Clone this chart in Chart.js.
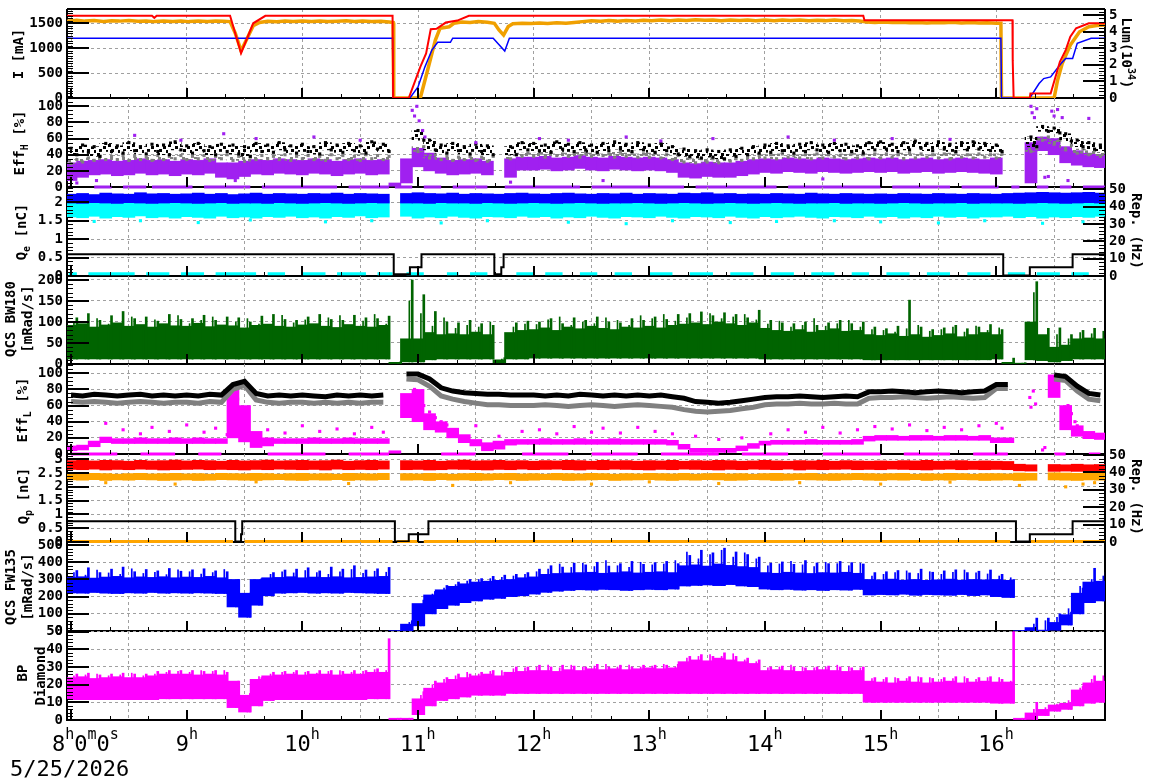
<!DOCTYPE html>
<html>
<head>
<meta charset="utf-8">
<script src="https://cdn.jsdelivr.net/npm/chart.js@4.4.1/dist/chart.umd.min.js"></script>
<style>
body{margin:0;background:#fff;width:1172px;height:782px;position:relative;overflow:hidden;font-family:'DejaVu Sans Mono',monospace;color:#000;}
canvas{position:absolute;left:0;}
.t{position:absolute;font-size:14px;font-weight:bold;white-space:nowrap;line-height:16px;}
.l{transform:translate(-50%,-50%) rotate(-90deg);}
.r{transform:translate(-50%,-50%) rotate(90deg);}
.t sub,.t sup{font-size:10px;line-height:0;}
.xl{position:absolute;top:733px;font-size:22px;line-height:22px;white-space:nowrap;}
.xl span{font-size:15px;position:relative;top:-12px;}
.date{position:absolute;left:10px;top:758px;font-size:22px;line-height:22px;}
</style>
</head>
<body>
<script>
// 横軸（時）
const XMIN = 7.965, XMAX = 16.94;
const hours = [8, 9, 10, 11, 12, 13, 14, 15, 16];
const xTickLabels = ['8h0m0s', '9h', '10h', '11h', '12h', '13h', '14h', '15h', '16h'];
const dateLabel = '5/25/2026';

// 0.1時間ごとの時刻
const T = [
  8.0,8.1,8.2,8.3,8.4,8.5,8.6,8.7,8.8,8.9,
  9.0,9.1,9.2,9.3,9.4,9.5,9.6,9.7,9.8,9.9,
  10.0,10.1,10.2,10.3,10.4,10.5,10.6,10.7,10.8,10.9,
  11.0,11.1,11.2,11.3,11.4,11.5,11.6,11.7,11.8,11.9,
  12.0,12.1,12.2,12.3,12.4,12.5,12.6,12.7,12.8,12.9,
  13.0,13.1,13.2,13.3,13.4,13.5,13.6,13.7,13.8,13.9,
  14.0,14.1,14.2,14.3,14.4,14.5,14.6,14.7,14.8,14.9,
  15.0,15.1,15.2,15.3,15.4,15.5,15.6,15.7,15.8,15.9,
  16.0,16.1,16.2,16.3,16.4,16.5,16.6,16.7,16.8,16.9];

// 電流 [mA] と ルミノシティ
const currentRed = [[7.965,1650],[8.7,1650],[8.72,1610],[8.74,1650],[9.375,1650],[9.47,900],[9.575,1500],[9.68,1650],[10.78,1650],[10.785,0],[10.92,0],[11.02,625],[11.07,895],[11.11,1380],[11.16,1390],[11.24,1515],[11.34,1555],[11.44,1650],[14.85,1650],[14.86,1560],[16.14,1560],[16.142,760],[16.15,0],[16.29,0],[16.295,89],[16.47,89],[16.55,726],[16.6,962],[16.64,1230],[16.69,1400],[16.8,1500],[16.94,1500]];
const currentBlue = [[7.965,1200],[10.78,1200],[10.785,0],[10.93,0],[11.0,222],[11.06,625],[11.12,962],[11.17,1117],[11.28,1117],[11.3,1200],[11.65,1200],[11.75,942],[11.79,1200],[16.04,1200],[16.045,0],[16.29,0],[16.37,290],[16.41,390],[16.47,423],[16.56,693],[16.6,794],[16.66,794],[16.7,1097],[16.82,1198],[16.94,1200]];
const lumi = [[7.965,4.62],[8.05,4.68],[8.12,4.63],[8.2,4.66],[8.28,4.61],[8.35,4.65],[8.42,4.63],[8.5,4.67],[8.58,4.62],[8.65,4.64],[8.72,4.6],[8.8,4.63],[8.88,4.61],[8.95,4.64],[9.02,4.6],[9.1,4.63],[9.18,4.61],[9.25,4.64],[9.32,4.62],[9.375,4.6],[9.42,3.9],[9.47,2.85],[9.52,3.55],[9.575,4.35],[9.63,4.55],[9.7,4.62],[9.78,4.59],[9.85,4.63],[9.92,4.6],[10.0,4.64],[10.08,4.61],[10.15,4.63],[10.22,4.6],[10.3,4.62],[10.38,4.65],[10.45,4.61],[10.52,4.63],[10.6,4.6],[10.68,4.62],[10.75,4.58],[10.785,4.55],[10.79,0],[11.02,0],[11.09,1.87],[11.15,3.49],[11.19,4.2],[11.27,4.29],[11.31,4.5],[11.38,4.58],[11.45,4.55],[11.52,4.6],[11.6,4.56],[11.66,4.5],[11.7,4.1],[11.74,3.79],[11.78,4.3],[11.82,4.47],[11.9,4.5],[11.98,4.48],[12.05,4.52],[12.12,4.49],[12.2,4.53],[12.28,4.5],[12.35,4.55],[12.42,4.6],[12.5,4.65],[12.58,4.62],[12.65,4.66],[12.72,4.63],[12.8,4.67],[12.88,4.64],[12.95,4.68],[13.02,4.65],[13.1,4.69],[13.18,4.66],[13.25,4.7],[13.32,4.67],[13.4,4.71],[13.48,4.68],[13.55,4.7],[13.62,4.66],[13.7,4.69],[13.78,4.67],[13.85,4.7],[13.92,4.66],[14.0,4.69],[14.08,4.66],[14.15,4.7],[14.22,4.67],[14.3,4.69],[14.38,4.65],[14.45,4.68],[14.52,4.66],[14.6,4.69],[14.68,4.65],[14.75,4.67],[14.82,4.64],[14.88,4.58],[14.95,4.55],[15.02,4.57],[15.1,4.54],[15.18,4.56],[15.25,4.53],[15.32,4.55],[15.4,4.52],[15.48,4.55],[15.55,4.53],[15.62,4.56],[15.7,4.52],[15.78,4.54],[15.85,4.51],[15.92,4.53],[16.0,4.5],[16.04,4.5],[16.045,0],[16.5,0],[16.53,1.07],[16.57,2.08],[16.64,3.19],[16.69,3.69],[16.72,3.99],[16.8,4.29],[16.87,4.36],[16.94,4.4]];

// Eff_H [%]
const effHPurpleLo = [
  8,12,15,16,14,15,17,15,16,14,
  16,15,17,12,10,13,16,15,17,16,
  15,17,16,14,16,17,15,16,1,5,
  25,20,17,15,16,17,15,null,12,21,
  21,22,20,21,23,21,20,22,21,20,
  21,20,18,12,11,13,12,12,14,16,
  18,17,19,18,17,19,18,17,18,19,
  18,19,17,18,19,17,18,19,18,17,
  16,null,null,5,45,40,30,27,25,24];
const effHPurpleHi = [
  30,32,33,34,32,33,35,33,34,32,
  34,33,35,30,30,32,34,33,35,34,
  33,35,34,32,34,35,33,34,5,35,
  48,42,36,33,34,35,32,null,35,37,
  37,38,36,37,39,37,36,38,37,36,
  37,36,34,30,29,31,30,30,32,34,
  35,34,36,35,34,36,35,34,35,36,
  35,36,34,35,36,34,35,36,35,34,
  36,null,null,55,62,60,50,45,42,40];
const effHBlackHi = [
  48,52,50,54,51,55,50,53,52,56,
  51,54,50,53,52,50,54,52,55,51,
  53,50,55,52,54,51,56,53,null,null,
  70,58,52,54,50,53,51,null,50,55,
  54,52,56,53,55,52,54,56,53,55,
  52,54,50,47,45,46,44,46,48,50,
  52,54,51,53,55,52,54,53,51,55,
  56,53,55,57,54,56,53,55,56,54,
  52,null,null,62,75,73,66,58,55,52];
const effHBlackLo = [
  40,43,38,44,42,45,41,44,40,46,
  42,45,40,44,41,38,44,43,46,42,
  44,41,46,43,45,42,47,44,null,null,
  58,46,42,45,41,44,40,null,40,46,
  45,43,47,44,46,43,45,47,44,46,
  43,45,41,38,36,37,35,38,40,42,
  43,45,42,44,46,43,45,44,42,46,
  47,44,46,48,45,47,44,46,47,45,
  44,null,null,50,69,67,57,50,47,45];
const effHGreyHi = [
  34,36,38,38,39,38,37,39,38,39,
  38,39,38,40,38,37,39,38,40,38,
  39,38,40,39,38,40,39,38,null,null,
  50,40,38,37,38,37,38,null,40,42,
  42,43,41,42,43,42,41,43,42,41,
  42,40,39,36,35,35,34,35,37,39,
  40,41,39,40,41,40,39,41,40,41,
  41,40,42,41,40,41,42,40,41,40,
  41,null,null,48,62,58,52,47,45,43];
const effHGreyLo = [
  29,31,33,34,34,33,34,33,34,35,
  34,35,33,35,33,32,34,35,34,33,
  35,34,33,35,34,33,35,34,null,null,
  44,36,34,33,34,33,32,null,35,38,
  38,37,39,38,37,38,39,37,38,37,
  37,36,34,31,30,31,30,32,33,35,
  36,35,37,36,35,36,37,35,36,35,
  36,37,35,36,37,36,35,37,36,37,
  36,null,null,44,58,53,46,42,40,38];
const effHPurpleOut = [[8.05,5],[8.22,8],[8.55,64],[8.95,58],[9.32,66],[9.42,8],[9.6,60],[10.1,62],[10.5,58],[10.95,95],[10.97,88],[10.99,100],[11.01,82],[11.04,70],[11.06,62],[11.5,55],[11.8,6],[12.05,60],[12.3,58],[12.6,8],[12.8,62],[13.1,57],[13.55,60],[14.2,62],[14.5,10],[14.6,58],[15.1,60],[15.6,59],[16.3,100],[16.31,92],[16.33,86],[16.35,97],[16.42,12],[16.45,13],[16.48,94],[16.5,88],[16.53,96],[16.57,86],[16.62,8],[16.8,85]];
const effHZero = [[7.98,8.0],[8.2,8.35],[8.45,8.65],[8.7,9.05],[9.15,9.55],[9.65,10.3],[10.4,10.75],[10.8,10.95],[11.05,11.2],[11.3,11.6],[11.75,12.4],[12.5,13.3],[13.4,14.1],[14.2,15.0],[15.1,15.6],[15.7,16.02],[16.13,16.2],[16.35,16.45],[16.55,16.65],[16.75,16.94]];

// Q_e [nC] と繰り返し [Hz]
const qeBlueLo = [
  1.98,1.97,1.99,1.98,1.97,1.99,1.98,1.97,1.98,1.99,
  1.98,1.97,1.98,1.99,1.97,1.98,1.98,1.97,1.99,1.98,
  1.97,1.98,1.99,1.98,1.97,1.98,1.99,1.98,null,1.98,
  1.98,1.97,1.99,1.98,1.98,1.97,1.99,1.98,1.97,1.98,
  1.99,1.98,1.97,1.98,1.99,1.98,1.97,1.98,1.98,1.99,
  1.98,1.97,1.98,1.99,1.98,1.97,1.98,1.99,1.98,1.97,
  1.98,1.99,1.98,1.97,1.98,1.98,1.99,1.97,1.98,1.98,
  1.97,1.98,1.99,1.98,1.97,1.98,1.98,1.99,1.97,1.98,
  1.98,1.98,1.97,1.98,1.99,1.98,1.97,1.98,1.99,1.98];
const qeBlueHi = [
  2.22,2.24,2.21,2.25,2.23,2.22,2.26,2.23,2.24,2.22,
  2.23,2.25,2.22,2.24,2.21,2.23,2.25,2.22,2.24,2.23,
  2.22,2.24,2.23,2.25,2.22,2.24,2.23,2.22,null,2.24,
  2.26,2.24,2.23,2.25,2.22,2.24,2.23,2.22,2.24,2.25,
  2.23,2.22,2.24,2.25,2.23,2.22,2.24,2.23,2.25,2.22,
  2.24,2.23,2.22,2.25,2.24,2.26,2.23,2.24,2.22,2.23,
  2.22,2.24,2.23,2.22,2.25,2.23,2.22,2.24,2.23,2.22,
  2.23,2.22,2.24,2.23,2.22,2.24,2.23,2.22,2.24,2.23,
  2.22,2.24,2.25,2.26,2.27,2.26,2.25,2.26,2.27,2.25];
const qeCyanLo = [
  1.6,1.58,1.62,1.57,1.61,1.59,1.63,1.58,1.6,1.57,
  1.61,1.59,1.57,1.62,1.58,1.6,1.57,1.61,1.59,1.62,
  1.58,1.6,1.57,1.61,1.59,1.63,1.58,1.6,null,1.62,
  1.57,1.6,1.58,1.62,1.59,1.57,1.61,1.6,1.58,1.62,
  1.59,1.61,1.57,1.6,1.58,1.62,1.59,1.57,1.61,1.6,
  1.58,1.62,1.59,1.57,1.61,1.6,1.58,1.62,1.59,1.57,
  1.61,1.58,1.6,1.62,1.59,1.57,1.61,1.6,1.58,1.62,
  1.59,1.61,1.57,1.6,1.58,1.62,1.59,1.61,1.57,1.6,
  1.6,1.62,1.58,1.61,1.57,1.6,1.58,1.61,1.59,1.62];
const qeCyanHi = [
  2.04,2.05,2.03,2.05,2.04,2.03,2.05,2.04,2.03,2.05,
  2.04,2.03,2.05,2.04,2.05,2.03,2.04,2.05,2.03,2.04,
  2.05,2.04,2.03,2.05,2.04,2.03,2.05,2.04,null,2.03,
  2.05,2.04,2.03,2.05,2.04,2.05,2.03,2.04,2.05,2.04,
  2.03,2.05,2.04,2.03,2.05,2.04,2.03,2.05,2.04,2.03,
  2.05,2.04,2.03,2.05,2.04,2.03,2.05,2.04,2.05,2.03,
  2.04,2.05,2.03,2.04,2.05,2.04,2.03,2.05,2.04,2.05,
  2.03,2.04,2.05,2.03,2.04,2.05,2.04,2.03,2.05,2.04,
  2.05,2.06,2.07,2.08,2.07,2.08,2.09,2.08,2.07,2.08];
const qeCyanOut = [[8.2,1.48],[8.6,1.5],[9.1,1.45],[9.55,1.52],[10.2,1.47],[10.6,1.5],[11.2,1.44],[11.6,1.5],[12.3,1.46],[12.8,1.42],[13.2,1.5],[13.7,1.45],[14.1,1.48],[14.6,1.5],[15.0,1.47],[15.5,1.44],[15.9,1.5],[16.4,1.43],[16.75,1.47]];
const qeCyanZero = [[7.98,8.05],[8.15,8.55],[8.65,8.85],[8.95,9.15],[9.25,9.6],[9.7,9.85],[10.0,10.2],[10.3,10.55],[10.65,10.78],[10.9,11.05],[11.25,11.35],[11.45,11.6],[11.85,12.0],[12.1,12.25],[12.4,12.55],[12.7,12.85],[13.0,13.2],[13.35,13.55],[13.7,13.9],[14.05,14.25],[14.4,14.6],[14.75,14.9],[15.05,15.25],[15.4,15.6],[15.75,15.95],[16.1,16.25],[16.35,16.55],[16.65,16.8]];
const repE = [[7.965,12.5],[10.79,12.5],[10.79,1],[10.93,1],[10.93,5],[11.03,5],[11.03,12.5],[11.66,12.5],[11.66,1],[11.72,1],[11.72,5],[11.74,5],[11.74,12.5],[16.06,12.5],[16.06,0.3],[16.29,0.3],[16.29,5],[16.66,5],[16.66,12.5],[16.94,12.5]];

// QCS BW180 [mRad/s]
const bw180Lo = [
  12,12,12,12,12,12,12,12,12,12,
  12,12,12,12,12,12,12,12,12,12,
  12,12,12,12,12,12,12,12,0,5,
  5,10,12,12,12,12,12,3,12,12,
  14,14,14,14,14,14,14,14,14,14,
  14,14,14,14,14,14,14,14,14,14,
  12,12,12,12,12,12,12,12,12,10,
  10,10,10,10,10,10,10,10,10,10,
  12,0,0,10,8,5,8,12,12,12];
const bw180Hi = [
  92,96,88,93,98,90,94,88,96,91,
  90,97,89,93,91,86,92,95,90,88,
  93,96,90,87,94,90,88,92,4,60,
  60,75,70,72,70,76,70,10,75,80,
  82,86,80,88,84,90,85,82,88,86,
  90,86,92,95,98,94,100,96,92,98,
  85,80,78,82,76,80,84,78,80,70,
  68,72,66,70,64,68,72,65,70,75,
  70,4,2,100,70,40,45,60,62,60];
const bw180Spike = [
  110,120,104,115,125,108,112,102,118,106,
  108,116,104,112,110,100,114,118,106,104,
  112,118,106,104,116,110,108,114,5,200,
  165,125,100,98,104,96,92,15,98,102,
  100,108,96,110,104,112,100,98,108,104,
  112,106,118,120,124,115,122,118,110,128,
  104,98,96,100,92,98,104,96,100,88,
  84,90,152,88,82,86,92,84,88,94,
  82,14,3,196,85,86,70,80,85,80];
const bw180Spike2 = [
  100,88,108,95,92,112,85,105,90,115,
  96,104,112,90,100,108,95,88,116,98,
  105,92,110,115,88,102,118,95,3,150,
  120,90,110,85,92,88,100,12,88,95,
  94,105,112,92,100,96,110,104,92,115,
  108,118,102,110,96,120,108,112,118,105,
  95,102,88,92,108,90,96,104,88,82,
  80,76,84,92,78,82,88,76,90,80,
  86,4,2,170,60,70,60,75,72,78];

// Eff_L [%]
const effLBlack = [
  73,72,74,73,72,73,74,72,73,72,
  73,72,74,73,86,90,75,72,73,72,
  73,72,71,73,72,73,72,73,null,99,
  99,93,82,78,76,75,74,74,73,73,
  73,72,73,72,74,73,72,73,72,73,
  72,73,71,69,65,64,63,64,66,68,
  70,71,71,72,71,70,71,72,71,77,
  77,78,77,76,77,78,77,76,77,78,
  86,86,null,null,null,98,96,84,75,73];
const effLGrey = [
  65,64,65,64,63,64,65,64,63,64,
  64,63,65,64,80,85,67,64,63,64,
  64,63,64,63,64,63,64,64,null,93,
  92,84,72,68,65,63,61,61,60,60,
  60,61,60,59,60,61,60,59,60,61,
  60,59,58,55,53,52,53,54,56,58,
  61,62,62,63,62,62,63,62,62,69,
  70,70,71,70,69,70,71,70,69,70,
  81,81,null,null,null,93,91,78,68,66];
const effLMagLo = [
  4,5,9,14,13,13,13,13,13,13,
  13,13,13,13,20,15,8,10,13,13,
  13,13,13,13,13,13,13,13,1,45,
  40,30,27,20,14,10,4,6,11,12,
  12,12,12,12,12,12,12,12,12,12,
  12,12,11,6,2,2,2,2,4,7,
  11,12,12,12,12,12,12,12,12,16,
  17,17,17,17,17,17,17,17,17,17,
  14,14,null,null,null,70,30,22,19,18];
const effLMagHi = [
  10,11,16,21,19,19,20,19,19,20,
  19,20,19,19,80,60,28,20,19,19,
  19,20,19,19,20,19,19,19,4,75,
  80,50,40,32,24,18,14,16,18,18,
  18,19,18,18,19,18,18,19,18,18,
  18,18,17,12,7,7,7,7,10,13,
  16,17,17,17,18,17,17,17,18,22,
  23,23,22,23,23,22,23,23,22,23,
  20,20,null,null,null,98,60,35,28,26];
const effLMagOut = [[8.3,38],[8.45,30],[8.6,25],[8.7,33],[8.85,28],[9.0,36],[9.15,27],[9.25,32],[9.35,24],[9.43,75],[9.44,68],[9.46,55],[9.48,45],[9.7,30],[9.85,26],[10.0,35],[10.15,28],[10.3,31],[10.45,25],[10.6,33],[10.7,27],[10.97,80],[11.0,70],[11.05,60],[11.1,52],[11.15,45],[11.2,40],[11.25,36],[11.5,35],[11.7,22],[11.9,28],[12.05,30],[12.2,25],[12.35,34],[12.5,27],[12.6,32],[12.75,26],[12.9,33],[13.05,28],[13.2,25],[13.4,22],[13.6,18],[13.8,20],[14.05,25],[14.2,30],[14.35,27],[14.5,33],[14.65,26],[14.8,30],[14.95,34],[15.1,31],[15.25,36],[15.4,29],[15.55,33],[15.7,30],[15.85,35],[16.0,38],[16.05,32],[16.29,70],[16.3,58],[16.32,78],[16.34,62],[16.4,5],[16.42,8],[16.62,60],[16.65,50],[16.68,40],[16.7,35],[16.72,28]];
const effLZero = [[8.0,8.4],[8.6,8.9],[9.1,9.3],[9.7,10.2],[10.4,10.75],[11.2,11.5],[11.9,12.3],[12.5,12.9],[13.1,13.6],[13.8,14.2],[14.5,15.0],[15.2,15.6],[15.8,16.1],[16.5,16.6],[16.8,16.9]];

// Q_p [nC] と繰り返し [Hz]
const qpRedLo = [
  2.63,2.62,2.64,2.61,2.63,2.62,2.64,2.63,2.61,2.62,
  2.63,2.64,2.62,2.63,2.62,2.61,2.63,2.62,2.64,2.63,
  2.62,2.63,2.61,2.64,2.62,2.63,2.62,2.64,null,2.62,
  2.63,2.61,2.62,2.64,2.63,2.62,2.61,2.63,2.62,2.64,
  2.62,2.63,2.64,2.62,2.61,2.63,2.62,2.64,2.63,2.62,
  2.61,2.63,2.62,2.64,2.63,2.62,2.61,2.63,2.62,2.64,
  2.63,2.62,2.64,2.61,2.63,2.62,2.63,2.64,2.62,2.63,
  2.62,2.64,2.63,2.62,2.61,2.63,2.64,2.62,2.63,2.62,
  2.63,2.62,2.58,2.57,null,2.56,2.57,2.56,2.58,2.56];
const qpRedHi = [
  2.95,2.97,2.94,2.96,2.95,2.93,2.96,2.94,2.95,2.97,
  2.94,2.96,2.95,2.93,2.96,2.94,2.95,2.97,2.94,2.95,
  2.96,2.94,2.95,2.97,2.93,2.95,2.96,2.94,null,2.95,
  2.94,2.96,2.93,2.95,2.97,2.94,2.95,2.96,2.94,2.95,
  2.93,2.95,2.94,2.96,2.95,2.93,2.96,2.94,2.95,2.93,
  2.95,2.94,2.96,2.93,2.95,2.94,2.96,2.95,2.93,2.94,
  2.96,2.94,2.93,2.95,2.94,2.96,2.93,2.95,2.94,2.93,
  2.94,2.93,2.95,2.94,2.96,2.93,2.94,2.95,2.93,2.94,
  2.93,2.92,2.82,2.8,null,2.81,2.8,2.82,2.8,2.81];
const qpOrangeLo = [
  2.25,2.24,2.26,2.23,2.25,2.24,2.26,2.25,2.23,2.24,
  2.25,2.23,2.24,2.26,2.25,2.24,2.23,2.25,2.26,2.24,
  2.23,2.25,2.24,2.26,2.23,2.25,2.24,2.26,null,2.24,
  2.25,2.23,2.26,2.24,2.25,2.23,2.24,2.26,2.25,2.23,
  2.24,2.26,2.25,2.23,2.24,2.25,2.26,2.23,2.24,2.25,
  2.26,2.24,2.23,2.25,2.24,2.26,2.25,2.23,2.24,2.26,
  2.25,2.23,2.24,2.26,2.25,2.24,2.23,2.25,2.26,2.24,
  2.23,2.25,2.24,2.26,2.23,2.25,2.24,2.26,2.25,2.23,
  2.24,2.25,2.23,2.24,null,2.25,2.24,2.23,2.25,2.24];
const qpOrangeHi = [
  2.48,2.47,2.49,2.48,2.46,2.48,2.49,2.47,2.48,2.49,
  2.47,2.48,2.46,2.49,2.48,2.47,2.49,2.48,2.46,2.48,
  2.49,2.47,2.48,2.46,2.49,2.48,2.47,2.49,null,2.48,
  2.47,2.49,2.48,2.46,2.48,2.49,2.47,2.48,2.49,2.47,
  2.48,2.46,2.49,2.48,2.47,2.49,2.48,2.46,2.48,2.47,
  2.49,2.48,2.47,2.49,2.46,2.48,2.49,2.47,2.48,2.46,
  2.48,2.49,2.47,2.48,2.49,2.46,2.48,2.47,2.49,2.48,
  2.47,2.48,2.49,2.46,2.48,2.47,2.49,2.48,2.46,2.48,
  2.48,2.47,2.5,2.49,null,2.51,2.5,2.49,2.5,2.51];
const qpOrangeOut = [[8.3,2.15],[8.9,2.1],[9.6,2.18],[10.4,2.12],[11.3,2.05],[11.8,2.15],[12.5,2.1],[13.0,2.18],[13.6,2.12],[14.3,2.15],[15.0,2.1],[15.6,2.17],[16.2,2.05],[16.6,2.0],[16.75,2.1],[16.85,2.15]];
const qpOrangeZero = [[7.97,9.4],[9.5,10.78],[10.82,11.0],[11.05,16.12],[16.3,16.94]];
const repP = [[7.965,12],[9.42,12],[9.42,0.3],[9.47,0.3],[9.47,4.5],[9.48,4.5],[9.48,12],[10.8,12],[10.8,0.3],[10.92,0.3],[10.92,4.5],[11.09,4.5],[11.09,12],[16.17,12],[16.17,0.3],[16.29,0.3],[16.29,4.5],[16.66,4.5],[16.66,12],[16.94,12]];

// QCS FW135 [mRad/s]
const fw135Lo = [
  222,220,224,220,218,222,220,224,220,222,
  220,222,220,218,140,80,150,205,220,222,
  224,220,222,220,224,222,220,218,0,0,
  30,100,130,150,165,175,185,190,200,205,
  215,225,232,236,240,238,242,240,236,240,
  242,240,244,262,265,268,264,270,262,258,
  244,240,242,238,240,236,240,238,242,210,
  212,210,214,208,212,210,208,212,206,210,
  200,195,0,0,0,5,35,100,165,175];
const fw135Hi = [
  312,316,308,314,318,310,315,312,316,310,
  314,312,318,310,300,220,300,310,312,316,
  310,314,312,316,310,312,315,318,3,40,
  160,210,240,260,275,285,290,295,300,310,
  315,330,335,338,340,342,336,340,345,338,
  342,345,340,380,385,378,390,382,375,370,
  340,336,342,338,335,340,338,342,336,300,
  298,302,296,300,295,298,302,296,300,298,
  300,295,3,20,5,50,95,220,285,290];
const fw135Spike = [
  352,368,340,360,372,345,358,350,364,348,
  356,362,350,345,300,220,305,340,355,360,
  368,350,372,360,380,355,362,370,3,60,
  180,230,265,285,300,305,318,325,330,340,
  360,380,372,395,385,400,378,392,405,388,
  398,405,392,440,470,455,482,460,445,430,
  395,402,388,410,396,392,405,398,390,340,
  345,352,338,360,342,350,356,340,348,355,
  330,300,3,75,75,100,110,250,365,340];
const fw135Spike2 = [
  340,325,355,338,330,362,335,342,328,356,
  345,332,340,358,250,150,260,330,345,338,
  352,340,330,345,358,336,348,342,3,50,
  150,215,250,270,290,300,305,312,320,330,
  345,360,390,370,395,375,410,380,370,400,
  385,390,410,460,420,445,470,430,455,420,
  380,390,405,385,375,400,392,380,395,320,
  330,340,350,335,345,330,342,355,338,332,
  320,310,3,40,60,80,130,260,300,320];

// BP Diamond
const bpLo = [
  11.5,11.5,11.5,11.5,11.5,11.5,11.5,11.5,12,12,
  12,12,12,12,7,4.5,8,11,11.5,11.5,
  11.5,11.5,11.5,11.5,11.5,11.5,12,12,0,0,
  3,8,11,12,13,14,14,14,15,15,
  15,15,15,15,15,15,15,15,15,15,
  15,15,15,15,15,15,15,15,15,15,
  15,15,15,15,15,15,15,15,15,10,
  10,10,10,10,10,10,10,10,10,10,
  9.5,9.5,0,0,2.5,5,6,8,9.5,10];
const bpHi = [
  24,24.5,23.5,24,24.5,24,24,25,26,26,
  26,25.5,26,25.5,22,14,23,25,25.5,26,
  25.5,26,26,25.5,26,26,27,27,1,1,
  12,18,21,23,24,25,26,25,27,27.5,
  28,28,27.5,28.5,28,29,28.5,29,28.5,29,
  29.5,29,29.5,33,34,33.5,35,34,33,32,
  28,28.5,28,27.5,28,28.5,28,27.5,28,22,
  21.5,21,22,21.5,21,21.5,22,21,21.5,22,
  21.5,21.5,1,4,6,8.5,9.5,17,21,22];
const bpSpike = [
  26,26.5,25.5,26,26.5,26,26,27.5,28,28,
  28,27.5,28,27,22,15,24,27,27.5,28,
  27.5,28,28,27.5,28,28,29,46,1,1,
  16,22,24,26,26,27,28,27,30,30,
  31,30,31,30.5,30,31.5,30,31,30,31,
  31,31,31.5,36,37,36,38,36,35,34,
  30,30.5,30,29.5,30,30.5,30,29.5,30,24,
  24,23.5,24.5,24,23.5,24,24.5,23.5,24,24.5,
  23,50,1,10,6,9,10,19,25,24];
const bpSpike2 = [
  25,25.5,26,25,25.5,26.5,25,26,27,27.5,
  27,28,27.5,28,20,13,24.5,26,27,27,
  27,26.5,27.5,28,27,27.5,28.5,28,1,1,
  14,20,23,25,27,26,27.5,28,29,29.5,
  30,31,29.5,31,30,30.5,31.5,30,31,30,
  30.5,31.5,30,35,36,37,36,37.5,34,33,
  29.5,30,31,30,29.5,30,31,30,29.5,23.5,
  23,24,23.5,24.5,24,23,23.5,24.5,23,24,
  24,22,1,6,7,9,11,18,23,25];

// 軸タイトル
const titles = [
  {html: 'I [mA]', x: 18, y: 54, side: 'l'},
  {html: 'Lum(10<sup>34</sup>)', x: 1127, y: 53, side: 'r'},
  {html: 'Eff<sub>H</sub> [%]', x: 19, y: 143, side: 'l'},
  {html: 'Q<sub>e</sub> [nC]', x: 21, y: 232, side: 'l'},
  {html: 'Rep. (Hz)', x: 1137, y: 231, side: 'r'},
  {html: 'QCS BW180', x: 10, y: 319, side: 'l'},
  {html: '[mRad/s]', x: 27, y: 319, side: 'l'},
  {html: 'Eff<sub>L</sub> [%]', x: 22, y: 410, side: 'l'},
  {html: 'Q<sub>p</sub> [nC]', x: 23, y: 496, side: 'l'},
  {html: 'Rep. (Hz)', x: 1137, y: 497, side: 'r'},
  {html: 'QCS FW135', x: 10, y: 587, side: 'l'},
  {html: '[mRad/s]', x: 27, y: 587, side: 'l'},
  {html: 'BP', x: 22, y: 673, side: 'l'},
  {html: 'Diamond', x: 40, y: 676, side: 'l'}
];

Chart.defaults.font.family = "'DejaVu Sans Mono', monospace";
Chart.defaults.font.size = 14;
Chart.defaults.color = '#000';
Chart.defaults.animation = false;
Chart.defaults.events = [];
Chart.defaults.plugins.legend.display = false;
Chart.defaults.plugins.tooltip.enabled = false;

const GRID = '#a0a0a0';
const PAD = 14;
const BOUNDS = [9, 98, 187, 276, 364, 454, 542, 631, 720];

// 点描パターン（散布点の雲の見た目用）
function dotPattern(color, cells) {
  const c = document.createElement('canvas');
  c.width = 12; c.height = 12;
  const g = c.getContext('2d');
  g.fillStyle = color;
  cells.forEach(([x, y]) => g.fillRect(x, y, 3, 3));
  return g.createPattern(c, 'repeat');
}
const blackCloud = dotPattern('#000000', [[0, 0], [7, 2], [3, 5], [10, 6], [1, 9], [6, 10]]);
const greyCloud = dotPattern('#808080', [[2, 1], [8, 3], [5, 6], [0, 7], [9, 9], [4, 10]]);

// データ変換
const pairs = arr => arr.map(([x, y]) => ({x, y}));
const band = (lo, hi, dx) => T.map((t, i) => lo[i] == null ? null : {x: t + dx, y: [lo[i], hi[i]]}).filter(Boolean);
const series = (vals, dx) => T.map((t, i) => ({x: t + dx, y: vals[i]}));
const dots = (vals, dx) => T.map((t, i) => vals[i] == null ? null : {x: t + dx, y: vals[i]}).filter(Boolean);
const segs = (list, v) => list.flatMap(([a, b]) => [{x: a, y: v}, {x: b, y: v}, {x: b, y: null}]);

const barDs = (data, color, order, thick) => ({
  type: 'bar', data, backgroundColor: color, borderWidth: 0, grouped: false,
  barThickness: thick || 12, order, yAxisID: 'y'
});
const lineDs = (data, color, width, order, axis) => ({
  type: 'line', data, borderColor: color, borderWidth: width, pointRadius: 0,
  fill: false, tension: 0, spanGaps: false, order, yAxisID: axis || 'y'
});
const zeroDs = (data, color, order) => Object.assign(lineDs(data, color, 3, order), {clip: {left: 0, top: 0, right: 0, bottom: 4}});
const dotDs = (data, color, order) => ({
  type: 'line', data, showLine: false, pointStyle: 'rect', pointRadius: 2.2,
  pointBackgroundColor: color, pointBorderWidth: 0, order, yAxisID: 'y'
});

// 枠と内向き目盛り
const framePlugin = {
  id: 'frame',
  beforeDatasetsDraw(chart, args, o) {
    const {ctx, chartArea: a} = chart;
    ctx.save();
    ctx.strokeStyle = '#000';
    ctx.lineWidth = 2;
    ctx.beginPath();
    if (o.first) { ctx.moveTo(a.left, a.top); ctx.lineTo(a.right, a.top); }
    ctx.moveTo(a.left, a.top); ctx.lineTo(a.left, a.bottom);
    ctx.lineTo(a.right, a.bottom); ctx.lineTo(a.right, a.top);
    ctx.stroke();
    ctx.restore();
  },
  afterDatasetsDraw(chart, args, o) {
    const {ctx, chartArea: a, scales} = chart;
    ctx.save();
    ctx.strokeStyle = '#000';
    const seg = (x1, y1, x2, y2, w) => {
      ctx.lineWidth = w; ctx.beginPath(); ctx.moveTo(x1, y1); ctx.lineTo(x2, y2); ctx.stroke();
    };
    const x = scales.x;
    for (let h = 8; h <= 16; h++) {
      for (let m = 0; m < 3; m++) {
        const v = h + m / 3;
        if (v < x.min || v > x.max) continue;
        const px = Math.round(x.getPixelForValue(v)) + (m ? 0.5 : 0);
        seg(px, a.bottom, px, a.bottom - (m ? 4 : 10), m ? 1 : 2);
      }
    }
    const yTicks = (sc, c, edge, dir) => {
      const n = Math.floor(sc.max / c.minor + 1e-6);
      for (let k = 0; k <= n; k++) {
        const v = k * c.minor;
        const major = Math.abs(v / c.major - Math.round(v / c.major)) < 1e-6;
        const py = Math.round(sc.getPixelForValue(v)) + (major ? 0 : 0.5);
        seg(edge, py, edge + dir * (major ? 22 : 6), py, major ? 2 : 1);
      }
    };
    yTicks(scales.y, o.left, a.left, 1);
    if (o.right) yTicks(scales.y2, o.right, a.right, -1);
    ctx.restore();
  }
};

const xAxis = () => ({
  type: 'linear', min: XMIN, max: XMAX, offset: false,
  afterBuildTicks: ax => { ax.ticks = hours.map(v => ({value: v})); },
  afterFit: ax => { ax.height = 0; },
  ticks: {display: false},
  grid: {drawTicks: false, color: GRID, lineWidth: 1},
  border: {display: false, dash: [3, 3]}
});

const yAxis = (pos, c) => ({
  type: 'linear', position: pos, min: c.min, max: c.max,
  afterBuildTicks: ax => { ax.ticks = c.ticks.map(v => ({value: v})); },
  afterFit: ax => { ax.width = 67; },
  ticks: {padding: 4, autoSkip: false, color: '#000', font: {size: 14, weight: 'bold'}, callback: v => String(v)},
  grid: {drawTicks: false, color: GRID, lineWidth: 1, drawOnChartArea: pos === 'left'},
  border: {display: false, dash: [3, 3]}
});

function panel(k, cfg) {
  const top = BOUNDS[k], bot = BOUNDS[k + 1];
  const cv = document.createElement('canvas');
  cv.width = 1172;
  cv.height = bot - top + 2 * PAD;
  cv.style.top = (top - PAD) + 'px';
  document.body.appendChild(cv);
  const scales = {x: xAxis(), y: yAxis('left', cfg.y)};
  if (cfg.y2) scales.y2 = yAxis('right', cfg.y2);
  return new Chart(cv, {
    type: 'line',
    data: {datasets: cfg.datasets},
    options: {
      responsive: false,
      maintainAspectRatio: false,
      layout: {padding: {top: PAD, bottom: PAD, left: 0, right: cfg.y2 ? 0 : 67}},
      scales,
      plugins: {frame: {left: {minor: cfg.y.minor, major: cfg.y.major}, right: cfg.y2 ? {minor: cfg.y2.minor, major: cfg.y2.major} : null, first: k === 0}}
    },
    plugins: [framePlugin]
  });
}

const charts = [];

// 1: 電流とルミノシティ
charts.push(panel(0, {
  y: {min: 0, max: 1787, ticks: [0, 500, 1000, 1500], minor: 50, major: 500},
  y2: {min: 0, max: 5.36, ticks: [0, 1, 2, 3, 4, 5], minor: 0.2, major: 1},
  datasets: [
    lineDs(pairs(currentRed), '#ff0000', 2, 0),
    lineDs(pairs(currentBlue), '#0000ff', 1.5, 1),
    lineDs(pairs(lumi), '#f0a000', 3.5, 2, 'y2')
  ]
}));

// 2: Eff_H
charts.push(panel(1, {
  y: {min: 0, max: 110.3, ticks: [0, 20, 40, 60, 80, 100], minor: 5, major: 20},
  datasets: [
    dotDs(pairs(effHPurpleOut), '#a020f0', 0),
    zeroDs(segs(effHZero, 0), '#a020f0', 1),
    dotDs(dots(effHBlackHi, 0), '#000000', 2),
    dotDs(dots(effHBlackLo, 0.05), '#000000', 3),
    barDs(band(effHBlackLo, effHBlackHi, 0), blackCloud, 4),
    dotDs(dots(effHGreyHi, 0.05), '#808080', 5),
    dotDs(dots(effHGreyLo, 0), '#808080', 6),
    barDs(band(effHGreyLo, effHGreyHi, 0), greyCloud, 7),
    barDs(band(effHPurpleLo, effHPurpleHi, 0), '#a020f0', 8)
  ]
}));

// 3: Q_e
charts.push(panel(2, {
  y: {min: 0, max: 2.415, ticks: [0, 0.5, 1, 1.5, 2], minor: 0.1, major: 0.5},
  y2: {min: 0, max: 51.3, ticks: [0, 10, 20, 30, 40, 50], minor: 2, major: 10},
  datasets: [
    lineDs(pairs(repE), '#000000', 2, 0, 'y2'),
    zeroDs(segs(qeCyanZero, 0.06), '#00ffff', 1),
    dotDs(pairs(qeCyanOut), '#00ffff', 2),
    barDs(band(qeBlueLo, qeBlueHi, 0), '#0000ff', 3),
    barDs(band(qeCyanLo, qeCyanHi, 0), '#00ffff', 4)
  ]
}));

// 4: QCS BW180
charts.push(panel(3, {
  y: {min: 0, max: 209.5, ticks: [0, 50, 100, 150, 200], minor: 10, major: 50},
  datasets: [
    barDs(band(bw180Lo, bw180Spike, 0.05), '#006400', 0, 2),
    barDs(band(bw180Lo, bw180Spike2, 0.025), '#006400', 1, 1),
    barDs(band(bw180Lo, bw180Hi, 0), '#006400', 2)
  ]
}));

// 5: Eff_L
charts.push(panel(4, {
  y: {min: 0, max: 111.5, ticks: [0, 20, 40, 60, 80, 100], minor: 5, major: 20},
  datasets: [
    dotDs(pairs(effLMagOut), '#ff00ff', 0),
    zeroDs(segs(effLZero, 0), '#ff00ff', 1),
    lineDs(series(effLBlack, 0), '#000000', 5, 2),
    lineDs(series(effLGrey, 0), '#808080', 5, 3),
    barDs(band(effLMagLo, effLMagHi, 0), '#ff00ff', 4)
  ]
}));

// 6: Q_p
charts.push(panel(5, {
  y: {min: 0, max: 3.19, ticks: [0, 0.5, 1, 1.5, 2, 2.5, 3], minor: 0.1, major: 0.5},
  y2: {min: 0, max: 50.6, ticks: [0, 10, 20, 30, 40, 50], minor: 2, major: 10},
  datasets: [
    lineDs(pairs(repP), '#000000', 2, 0, 'y2'),
    zeroDs(segs(qpOrangeZero, 0.02), '#ffa500', 1),
    dotDs(pairs(qpOrangeOut), '#ffa500', 2),
    barDs(band(qpRedLo, qpRedHi, 0), '#ff0000', 3),
    barDs(band(qpOrangeLo, qpOrangeHi, 0), '#ffa500', 4)
  ]
}));

// 7: QCS FW135
charts.push(panel(6, {
  y: {min: 0, max: 518, ticks: [0, 100, 200, 300, 400, 500], minor: 20, major: 100},
  datasets: [
    barDs(band(fw135Lo, fw135Spike, 0.05), '#0000ff', 0, 2),
    barDs(band(fw135Lo, fw135Spike2, 0.025), '#0000ff', 1, 1),
    barDs(band(fw135Lo, fw135Hi, 0), '#0000ff', 2)
  ]
}));

// 8: BP Diamond
charts.push(panel(7, {
  y: {min: 0, max: 50.35, ticks: [0, 10, 20, 30, 40, 50], minor: 2, major: 10},
  datasets: [
    barDs(band(bpLo, bpSpike, 0.05), '#ff00ff', 0, 2),
    barDs(band(bpLo, bpSpike2, 0.025), '#ff00ff', 1, 1),
    barDs(band(bpLo, bpHi, 0), '#ff00ff', 2)
  ]
}));

// タイトル
titles.forEach(t => {
  const d = document.createElement('div');
  d.className = 't ' + t.side;
  d.innerHTML = t.html;
  d.style.left = t.x + 'px';
  d.style.top = t.y + 'px';
  document.body.appendChild(d);
});

// 時刻ラベル
const xs = charts[7].scales.x;
xTickLabels.forEach((lab, i) => {
  const d = document.createElement('div');
  d.className = 'xl';
  d.innerHTML = lab.replace(/([hms])/g, '<span>$1</span>');
  document.body.appendChild(d);
  const px = xs.getPixelForValue(hours[i]);
  d.style.left = (i === 0 ? px - 19 : px - d.offsetWidth / 2) + 'px';
});
const dd = document.createElement('div');
dd.className = 'date';
dd.textContent = dateLabel;
document.body.appendChild(dd);
</script>
</body>
</html>
